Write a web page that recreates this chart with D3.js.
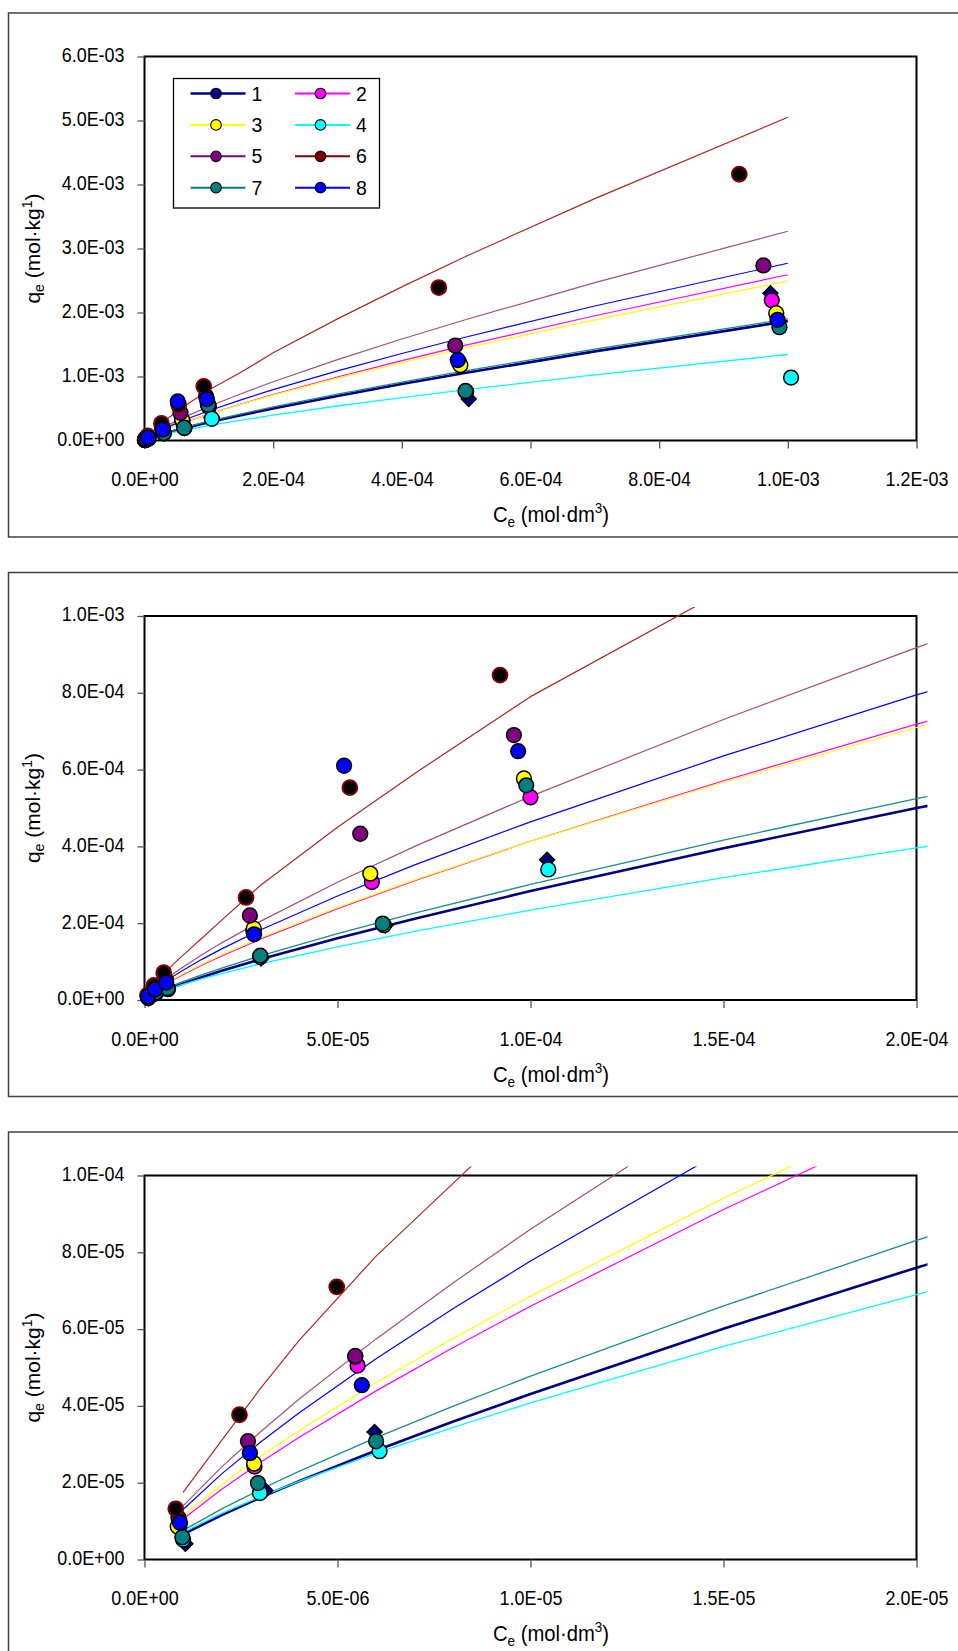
<!DOCTYPE html>
<html><head><meta charset="utf-8">
<script src="https://cdn.jsdelivr.net/npm/d3@7"></script>
<style>
body{margin:0;background:#fff}
svg{display:block}
text{font-family:"Liberation Sans", Arial, sans-serif; fill:#000}
</style>
</head><body>
<svg id="c" width="958" height="1651"></svg>
<script>
// ---------------- DATA ----------------
const seriesNames = ['1','2','3','4','5','6','7','8'];

// fitted isotherm curves (Ce grid, q for each series)
const fitCe = [1e-6,2e-6,3e-6,4e-6,6e-6,8e-6,1e-5,1.5e-5,2e-5,3e-5,5e-5,7e-5,1e-4,1.5e-4,2e-4,3e-4,4e-4,5e-4,7e-4,1e-3];
const fitQ1 = [6.56e-6,1.156e-5,1.611e-5,2.038e-5,2.840e-5,3.592e-5,4.311e-5,6.009e-5,7.600e-5,1.059e-4,1.609e-4,2.118e-4,2.836e-4,3.952e-4,4.998e-4,6.966e-4,8.814e-4,1.058e-3,1.393e-3,1.865e-3];
const fitQ2 = [1.053e-5,1.830e-5,2.527e-5,3.178e-5,4.391e-5,5.523e-5,6.597e-5,9.114e-5,1.146e-4,1.584e-4,2.379e-4,3.110e-4,4.133e-4,5.710e-4,7.183e-4,9.920e-4,1.248e-3,1.491e-3,1.949e-3,2.590e-3];
const fitQ3 = [1.138e-5,1.954e-5,2.682e-5,3.355e-5,4.604e-5,5.762e-5,6.858e-5,9.410e-5,1.178e-4,1.616e-4,2.406e-4,3.129e-4,4.132e-4,5.670e-4,7.096e-4,9.734e-4,1.218e-3,1.450e-3,1.886e-3,2.490e-3];
const fitQ4 = [7.10e-6,1.202e-5,1.635e-5,2.034e-5,2.768e-5,3.442e-5,4.077e-5,5.548e-5,6.900e-5,9.387e-5,1.383e-4,1.786e-4,2.341e-4,3.185e-4,3.962e-4,5.389e-4,6.706e-4,7.942e-4,1.025e-3,1.344e-3];
const fitQ5 = [1.395e-5,2.412e-5,3.322e-5,4.172e-5,5.745e-5,7.209e-5,8.601e-5,1.184e-4,1.488e-4,2.048e-4,3.067e-4,4.000e-4,5.303e-4,7.304e-4,9.175e-4,1.264e-3,1.586e-3,1.891e-3,2.466e-3,3.270e-3];
const fitQ6 = [1.75e-5,3.10e-5,4.45e-5,5.70e-5,7.90e-5,9.80e-5,1.17e-4,1.62e-4,2.08e-4,2.98e-4,4.50e-4,5.90e-4,7.90e-4,1.065e-3,1.37e-3,1.90e-3,2.40e-3,2.88e-3,3.78e-3,5.05e-3];
const fitQ7 = [7.57e-6,1.317e-5,1.822e-5,2.293e-5,3.172e-5,3.994e-5,4.773e-5,6.602e-5,8.309e-5,1.150e-4,1.730e-4,2.263e-4,3.011e-4,4.166e-4,5.243e-4,7.253e-4,9.130e-4,1.091e-3,1.429e-3,1.900e-3];
const fitQ8 = [1.302e-5,2.229e-5,3.052e-5,3.815e-5,5.230e-5,6.536e-5,7.771e-5,1.065e-4,1.331e-4,1.823e-4,2.709e-4,3.518e-4,4.640e-4,6.356e-4,7.945e-4,1.088e-3,1.360e-3,1.617e-3,2.101e-3,2.770e-3];

// experimental points
const ptCe1 = [1.06e-6,3.13e-6,5.96e-6,3.02e-5,6.24e-5,1.043e-4,5.04e-4,9.73e-4];
const ptQ1  = [4.1e-6,1.80e-5,3.32e-5,1.08e-4,1.94e-4,3.65e-4,6.5e-4,2.30e-3];
const ptCe2 = [0.90e-6,2.85e-6,5.52e-6,2.82e-5,5.89e-5,1.00e-4,4.89e-4,9.75e-4];
const ptQ2  = [0.85e-5,2.42e-5,5.05e-5,1.80e-4,3.07e-4,5.28e-4,1.22e-3,2.19e-3];
const ptCe3 = [0.86e-6,2.84e-6,5.46e-6,2.83e-5,5.85e-5,9.83e-5,4.91e-4,9.82e-4];
const ptQ3  = [0.86e-5,2.50e-5,5.28e-5,1.86e-4,3.29e-4,5.77e-4,1.177e-3,1.99e-3];
const ptCe4 = [1.00e-6,2.99e-6,6.09e-6,3.00e-5,6.20e-5,1.046e-4,5.00e-4,1.005e-3];
const ptQ4  = [0.52e-5,1.73e-5,2.82e-5,1.12e-4,1.95e-4,3.40e-4,7.6e-4,0.983e-3];
const ptCe5 = [0.88e-6,2.68e-6,5.46e-6,2.73e-5,5.59e-5,9.57e-5,4.83e-4,9.62e-4];
const ptQ5  = [1.09e-5,3.08e-5,5.30e-5,2.20e-4,4.33e-4,6.90e-4,1.483e-3,2.735e-3];
const ptCe6 = [0.81e-6,2.46e-6,4.98e-6,2.63e-5,5.32e-5,9.21e-5,4.575e-4,9.245e-4];
const ptQ6  = [1.32e-5,3.77e-5,7.10e-5,2.67e-4,5.53e-4,8.46e-4,2.39e-3,4.16e-3];
const ptCe7 = [0.98e-6,2.94e-6,6.00e-6,3.00e-5,6.17e-5,9.89e-5,4.99e-4,9.87e-4];
const ptQ7  = [0.58e-5,1.99e-5,3.08e-5,1.155e-4,1.99e-4,5.59e-4,0.774e-3,1.77e-3];
const ptCe8 = [0.92e-6,2.73e-6,5.63e-6,2.84e-5,5.17e-5,9.68e-5,4.87e-4,9.84e-4];
const ptQ8  = [0.96e-5,2.77e-5,4.54e-5,1.71e-4,6.10e-4,6.48e-4,1.258e-3,1.886e-3];

// axis ticks per panel
const xTicksA = [0,2e-4,4e-4,6e-4,8e-4,1e-3,1.2e-3];
const xLabelsA = ['0.0E+00','2.0E-04','4.0E-04','6.0E-04','8.0E-04','1.0E-03','1.2E-03'];
const yTicksA = [0,1e-3,2e-3,3e-3,4e-3,5e-3,6e-3];
const yLabelsA = ['0.0E+00','1.0E-03','2.0E-03','3.0E-03','4.0E-03','5.0E-03','6.0E-03'];
const xTicksB = [0,5e-5,1e-4,1.5e-4,2e-4];
const xLabelsB = ['0.0E+00','5.0E-05','1.0E-04','1.5E-04','2.0E-04'];
const yTicksB = [0,2e-4,4e-4,6e-4,8e-4,1e-3];
const yLabelsB = ['0.0E+00','2.0E-04','4.0E-04','6.0E-04','8.0E-04','1.0E-03'];
const xTicksC = [0,5e-6,1e-5,1.5e-5,2e-5];
const xLabelsC = ['0.0E+00','5.0E-06','1.0E-05','1.5E-05','2.0E-05'];
const yTicksC = [0,2e-5,4e-5,6e-5,8e-5,1e-4];
const yLabelsC = ['0.0E+00','2.0E-05','4.0E-05','6.0E-05','8.0E-05','1.0E-04'];

// ---------------- STYLE ----------------
const fits = [fitQ1,fitQ2,fitQ3,fitQ4,fitQ5,fitQ6,fitQ7,fitQ8];
const ptsCe = [ptCe1,ptCe2,ptCe3,ptCe4,ptCe5,ptCe6,ptCe7,ptCe8];
const ptsQ = [ptQ1,ptQ2,ptQ3,ptQ4,ptQ5,ptQ6,ptQ7,ptQ8];
const lineColors = ['#000080','#FF00FF','#FFFF00','#00FFFF','#A0507F','#A52A2A','#1F8A8A','#0000FF'];
const lineWidths = [2.6,1.2,1.2,1.3,1.2,1.2,1.3,1.2];
const legendLineColors = ['#000080','#FF00FF','#FFFF00','#00FFFF','#800080','#800000','#008080','#0000FF'];
const markerFill = ['#000080','#FF00FF','#FFFF00','#00FFFF','#800080','#000000','#008080','#0000FF'];
const markerStroke = ['#000','#000','#000','#000','#000','#800000','#000','#000'];
const legendFill = ['#000080','#FF00FF','#FFFF00','#00FFFF','#800080','#800000','#008080','#0000FF'];

const panels = [
  {frameTop:13, xt:xTicksA, xl:xLabelsA, yt:yTicksA, yl:yLabelsA, legend:true},
  {frameTop:572.5, xt:xTicksB, xl:xLabelsB, yt:yTicksB, yl:yLabelsB, legend:false},
  {frameTop:1132, xt:xTicksC, xl:xLabelsC, yt:yTicksC, yl:yLabelsC, legend:false}
];

const svg = d3.select('#c');
const defs = svg.append('defs');
const LEFT = 144.5, RIGHT = 916.5;
const SX = 0.92;

panels.forEach((p, pi) => {
  const g = svg.append('g');
  const top = p.frameTop + 43.5, bottom = p.frameTop + 427.5;
  // chart frame
  g.append('rect').attr('x',8.5).attr('y',p.frameTop).attr('width',1000).attr('height',524)
    .attr('fill','none').attr('stroke','#404040').attr('stroke-width',1.5);

  const x = d3.scaleLinear().domain([0, d3.max(p.xt)]).range([LEFT, RIGHT]);
  const y = d3.scaleLinear().domain([0, d3.max(p.yt)]).range([bottom, top]);

  // plot area border
  g.append('rect').attr('x',LEFT).attr('y',top).attr('width',RIGHT-LEFT).attr('height',bottom-top)
    .attr('fill','none').attr('stroke','#000').attr('stroke-width',2);

  // axes
  const ya = g.append('g').attr('transform',`translate(${LEFT},0)`)
    .call(d3.axisLeft(y).tickValues(p.yt).tickFormat((d,i)=>p.yl[i]).tickSize(7).tickSizeOuter(0));
  const xa = g.append('g').attr('transform',`translate(0,${bottom})`)
    .call(d3.axisBottom(x).tickValues(p.xt).tickFormat((d,i)=>p.xl[i]).tickSize(8).tickSizeOuter(0));
  [ya, xa].forEach(a => {
    a.select('.domain').remove();
    a.selectAll('line').attr('stroke','#555').attr('stroke-width',1.3);
    a.selectAll('text').attr('font-family','"Liberation Sans", Arial, sans-serif').attr('font-size',19.5).attr('fill','#000');
  });
  ya.selectAll('text').attr('x', -20/SX).attr('dy','0.25em').attr('transform',`scale(${SX},1)`);
  xa.selectAll('text').attr('y', 32).attr('dy','0.71em').attr('transform',`scale(${SX},1)`);

  // axis titles
  const yt = g.append('text').attr('transform',`translate(39.5,${(top+bottom)/2}) rotate(-90)`)
    .attr('text-anchor','middle').attr('font-size',21);
  yt.append('tspan').text('q');
  yt.append('tspan').attr('font-size',14).attr('dy',4).text('e');
  yt.append('tspan').attr('dy',-4).text('\u00a0(mol\u00b7kg');
  yt.append('tspan').attr('font-size',14).attr('dy',-8).text('1');
  yt.append('tspan').attr('dy',8).text(')');

  const xt = g.append('text').attr('transform',`translate(551,${bottom+81.5}) scale(0.9,1)`)
    .attr('text-anchor','middle').attr('font-size',22.5);
  xt.append('tspan').text('C');
  xt.append('tspan').attr('font-size',15).attr('dy',5).text('e');
  xt.append('tspan').attr('dy',-5).text(' (mol\u00b7dm');
  xt.append('tspan').attr('font-size',15).attr('dy',-9).text('3');
  xt.append('tspan').attr('dy',9).text(')');

  // fitted lines
  const cid = 'clip' + pi;
  defs.append('clipPath').attr('id',cid).append('rect')
    .attr('x',LEFT).attr('y',top-9).attr('width',927.5-LEFT).attr('height',bottom-top+30);
  const lg = g.append('g').attr('clip-path',`url(#${cid})`);
  const line = d3.line().x(d=>x(d[0])).y(d=>y(d[1]));
  fits.forEach((f, si) => {
    lg.append('path').datum(fitCe.map((c,i)=>[c,f[i]]))
      .attr('d', line).attr('fill','none')
      .attr('stroke', lineColors[si]).attr('stroke-width', lineWidths[si])
      .attr('stroke-linejoin','round');
  });

  // markers
  const mg = g.append('g');
  const xmax = d3.max(p.xt), ymax = d3.max(p.yt);
  ptsCe.forEach((ce, si) => {
    const pts = ce.map((c,i)=>[c, ptsQ[si][i]]).filter(d => d[0] <= xmax*1.01 && d[1] <= ymax*1.01);
    if (si === 0) {
      mg.selectAll(null).data(pts).enter().append('path')
        .attr('transform', d=>`translate(${x(d[0])},${y(d[1])})`)
        .attr('d','M0,-7.5L7.5,0L0,7.5L-7.5,0Z')
        .attr('fill', markerFill[si]).attr('stroke','#000').attr('stroke-width',1.4);
    } else {
      mg.selectAll(null).data(pts).enter().append('circle')
        .attr('cx', d=>x(d[0])).attr('cy', d=>y(d[1])).attr('r',7.4)
        .attr('fill', markerFill[si]).attr('stroke', markerStroke[si])
        .attr('stroke-width', si===5 ? 2 : 1.5);
    }
  });

  // legend
  if (p.legend) {
    const L = g.append('g');
    L.append('rect').attr('x',173.5).attr('y',78.5).attr('width',206).attr('height',129.5)
      .attr('fill','#fff').attr('stroke','#000').attr('stroke-width',1.3);
    seriesNames.forEach((nm, i) => {
      const col = i % 2, row = Math.floor(i/2);
      const x1 = 190.5 + col*104.5, cy = 93.5 + row*31.4;
      L.append('line').attr('x1',x1).attr('x2',x1+55).attr('y1',cy).attr('y2',cy)
        .attr('stroke',legendLineColors[i]).attr('stroke-width', i===0 ? 2.4 : 2);
      L.append('circle').attr('cx',x1+25.5).attr('cy',cy).attr('r',5.3)
        .attr('fill',legendFill[i]).attr('stroke','#000').attr('stroke-width',1.1);
      L.append('text').attr('x',x1+61).attr('y',cy+7).attr('font-size',19.5).text(nm);
    });
  }
});
</script>
</body></html>
